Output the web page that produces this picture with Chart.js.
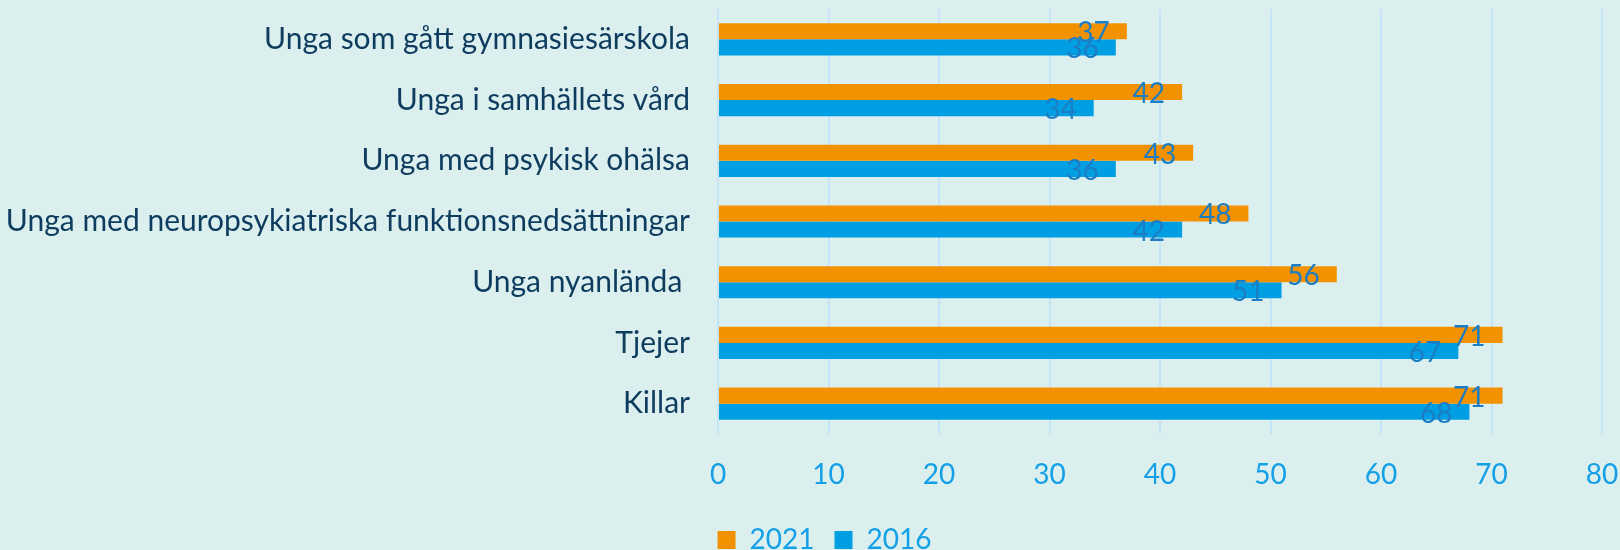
<!DOCTYPE html>
<html>
<head>
<meta charset="utf-8">
<script src="https://cdn.jsdelivr.net/npm/chart.js@4/dist/chart.umd.min.js"></script>
<style>
  html, body { margin: 0; padding: 0; background: #DCEFEF; overflow: hidden; }
  #wrap { width: 1620px; height: 564px; }
</style>
</head>
<body>
<div id="wrap"><canvas id="c" width="1620" height="564"></canvas></div>
<script>
const categories = [
  "Unga som gått gymnasiesärskola",
  "Unga i samhällets vård",
  "Unga med psykisk ohälsa",
  "Unga med neuropsykiatriska funktionsnedsättningar",
  "Unga nyanlända ",
  "Tjejer",
  "Killar"
];
const seriesNames = ["2021", "2016"];
const values2021 = [37, 42, 43, 48, 56, 71, 71];
const values2016 = [36, 34, 36, 42, 51, 67, 68];
const xTicks = [0, 10, 20, 30, 40, 50, 60, 70, 80];

const FONT = "Lato";

const dataLabels = {
  id: 'dataLabels',
  afterDatasetsDraw(chart) {
    const ctx = chart.ctx;
    ctx.save();
    ctx.font = "28px " + FONT;
    ctx.fillStyle = "#1B7DC4";
    ctx.textAlign = "right";
    ctx.textBaseline = "middle";
    chart.data.datasets.forEach((ds, i) => {
      const meta = chart.getDatasetMeta(i);
      meta.data.forEach((el, j) => {
        ctx.fillText(String(ds.data[j]), el.x - 17, el.y + 2);
      });
    });
    ctx.restore();
  }
};

// let the long category labels use the full left margin (label clip area)
const widenYLabelArea = {
  id: 'widenYLabelArea',
  afterLayout(chart) { chart.scales.y.left = 0; }
};

new Chart(document.getElementById('c'), {
  type: 'bar',
  data: {
    labels: categories,
    datasets: [
      { label: seriesNames[0], data: values2021, backgroundColor: "#F39200", borderWidth: 0 },
      { label: seriesNames[1], data: values2016, backgroundColor: "#009FE3", borderWidth: 0 }
    ]
  },
  options: {
    indexAxis: 'y',
    responsive: false,
    animation: false,
    devicePixelRatio: 1,
    categoryPercentage: 0.53,
    barPercentage: 1.0,
    layout: { padding: { top: 9, right: 18, left: 47, bottom: 0 } },
    plugins: {
      tooltip: { enabled: false },
      legend: {
        position: 'bottom',
        labels: {
          boxWidth: 18, boxHeight: 18, padding: 20,
          color: "#13A0E6",
          font: { family: FONT, size: 28 }
        }
      }
    },
    scales: {
      x: {
        min: 0, max: 80,
        afterBuildTicks(s) { s.ticks = xTicks.map(v => ({ value: v })); },
        afterFit(s) { s.height = 72; s.paddingLeft = 0; s.paddingRight = 0; },
        grid: { color: "#C5E5F7", lineWidth: 2, drawTicks: false },
        border: { display: false },
        ticks: { color: "#13A0E6", font: { family: FONT, size: 28 }, padding: 24 }
      },
      y: {
        afterFit(s) { s.width = 671; s.paddingTop = 0; s.paddingBottom = 0; },
        grid: { display: false, drawTicks: false },
        border: { display: false },
        ticks: { color: "#0E3C5E", font: { family: FONT, size: 30 }, padding: 28, autoSkip: false }
      }
    }
  },
  plugins: [dataLabels, widenYLabelArea]
});
</script>
</body>
</html>
